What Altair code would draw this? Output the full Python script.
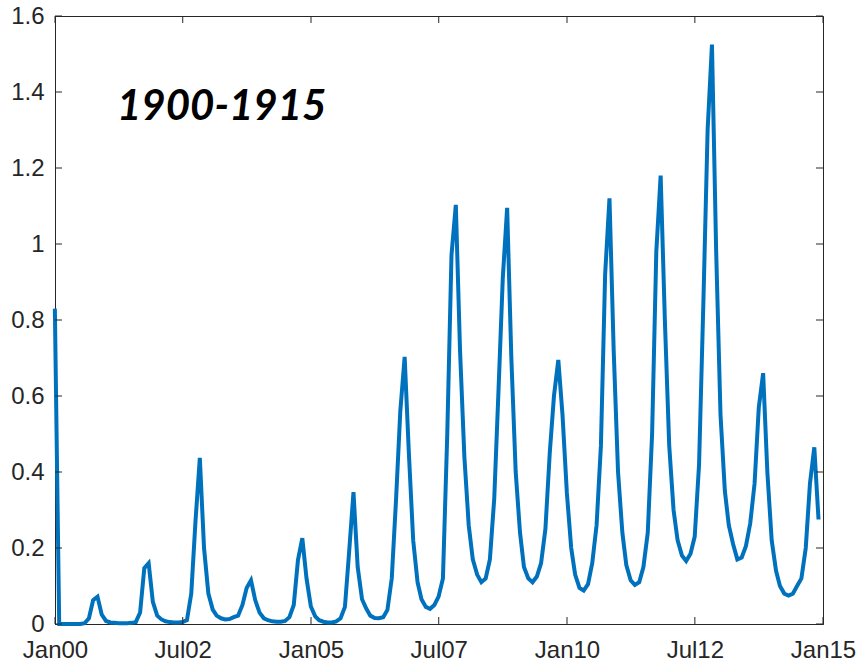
import altair as alt
import pandas as pd

# Monthly series, stamped at month end: Dec 1899 .. Nov 1904
values_a = [
    0.83, 0.0, 0.0, 0.0, 0.0, 0.0, 0.0, 0.002, 0.015, 0.063, 0.072, 0.025,
    0.008, 0.004, 0.003, 0.002, 0.002, 0.002, 0.003, 0.005, 0.03, 0.147, 0.16, 0.058,
    0.022, 0.012, 0.007, 0.005, 0.004, 0.004, 0.005, 0.01, 0.08, 0.27, 0.437, 0.2,
    0.08, 0.038, 0.022, 0.015, 0.012, 0.013, 0.018, 0.022, 0.05, 0.095, 0.115, 0.063,
    0.03, 0.015, 0.01, 0.007, 0.006, 0.006, 0.008, 0.018, 0.05, 0.168, 0.226, 0.12,
]
# Dec 1904 .. Nov 1909
values_b = [
    0.046, 0.02, 0.01, 0.006, 0.004, 0.004, 0.007, 0.015, 0.045, 0.19, 0.347, 0.15,
    0.065, 0.04, 0.022, 0.016, 0.015, 0.018, 0.037, 0.12, 0.33, 0.56, 0.703, 0.45,
    0.22, 0.11, 0.065, 0.045, 0.04, 0.05, 0.072, 0.12, 0.5, 0.97, 1.103, 0.72,
    0.44, 0.26, 0.17, 0.13, 0.11, 0.12, 0.17, 0.33, 0.62, 0.91, 1.095, 0.7,
    0.4, 0.24, 0.15, 0.12, 0.11, 0.125, 0.16, 0.25, 0.45, 0.6, 0.695, 0.55,
]
# Dec 1909 .. Nov 1914
values_c = [
    0.345, 0.2, 0.13, 0.095, 0.088, 0.105, 0.16, 0.26, 0.47, 0.92, 1.12, 0.72,
    0.4, 0.24, 0.155, 0.115, 0.103, 0.11, 0.15, 0.24, 0.5, 0.98, 1.18, 0.8,
    0.47, 0.3, 0.22, 0.18, 0.166, 0.185, 0.23, 0.42, 0.85, 1.3, 1.525, 0.98,
    0.55, 0.35, 0.26, 0.21, 0.17, 0.175, 0.205, 0.265, 0.37, 0.57, 0.66, 0.4,
    0.22, 0.14, 0.1, 0.08, 0.075, 0.08, 0.1, 0.12, 0.2, 0.37, 0.465, 0.275,
]

x_ticks = ["1900-01-01", "1902-07-01", "1905-01-01", "1907-07-01",
           "1910-01-01", "1912-07-01", "1915-01-01"]
y_ticks = [0, 0.2, 0.4, 0.6, 0.8, 1.0, 1.2, 1.4, 1.6]
title_text = "1900-1915"

values = values_a + values_b + values_c
month_ends = (pd.date_range("1900-01-01", periods=len(values), freq="MS")
              - pd.Timedelta(days=1)).strftime("%Y-%m-%d")
series = pd.DataFrame({"date": list(month_ends), "value": values})

W, H = 768, 608
INK = "#262626"
TICK = 7


def dt(s):
    y, m, d = (int(p) for p in s.split("-"))
    return alt.DateTime(year=y, month=m, date=d, utc=True)


x_scale = alt.Scale(type="utc", domain=[dt(x_ticks[0]), dt(x_ticks[-1])], nice=False)
y_scale = alt.Scale(domain=[0, 1.6], nice=False, zero=False)

x_axis = alt.Axis(values=[dt(s) for s in x_ticks],
                  labelExpr="utcFormat(datum.value, '%b%y')",
                  labelPadding=14, labelFlush=False, labelOverlap=False)
y_axis = alt.Axis(values=y_ticks, format=".1~f", labelPadding=11,
                  labelFlush=False, labelOverlap=False)

X = alt.X("date:T", scale=x_scale, title=None, axis=x_axis)
Y = alt.Y("value:Q", scale=y_scale, title=None, axis=y_axis)

line = alt.Chart(series).mark_line(color="#0072BD", strokeWidth=4).encode(x=X, y=Y)

xt = pd.DataFrame({"date": x_ticks})
yt = pd.DataFrame({"value": y_ticks})

# inward tick marks on all four sides of the box
tick_bottom = alt.Chart(xt).mark_rule(color=INK, strokeWidth=1).encode(
    x=X, y=alt.value(H - TICK), y2=alt.value(H))
tick_top = alt.Chart(xt).mark_rule(color=INK, strokeWidth=1).encode(
    x=X, y=alt.value(0), y2=alt.value(TICK))
tick_left = alt.Chart(yt).mark_rule(color=INK, strokeWidth=1).encode(
    y=Y, x=alt.value(0), x2=alt.value(TICK))
tick_right = alt.Chart(yt).mark_rule(color=INK, strokeWidth=1).encode(
    y=Y, x=alt.value(W - TICK), x2=alt.value(W))

label = alt.Chart(pd.DataFrame({"t": [title_text]})).mark_text(
    font="Lato", fontSize=42, fontStyle="italic", fontWeight="bold",
    align="left", baseline="alphabetic", color="black",
).encode(text="t:N", x=alt.value(62), y=alt.value(104))

chart = alt.layer(line, tick_bottom, tick_top, tick_left, tick_right, label).properties(
    width=W, height=H,
    autosize=alt.AutoSizeParams(type="none"),
    padding={"left": 55, "top": 16, "right": 37, "bottom": 38},
    background="white",
).configure_view(stroke=INK, strokeWidth=1).configure_axis(
    grid=False, ticks=False, domainColor=INK, domainWidth=1,
    labelColor=INK, labelFont="Liberation Sans", labelFontSize=24,
)

chart.save("out.html", embed_options={"renderer": "svg", "actions": False})
